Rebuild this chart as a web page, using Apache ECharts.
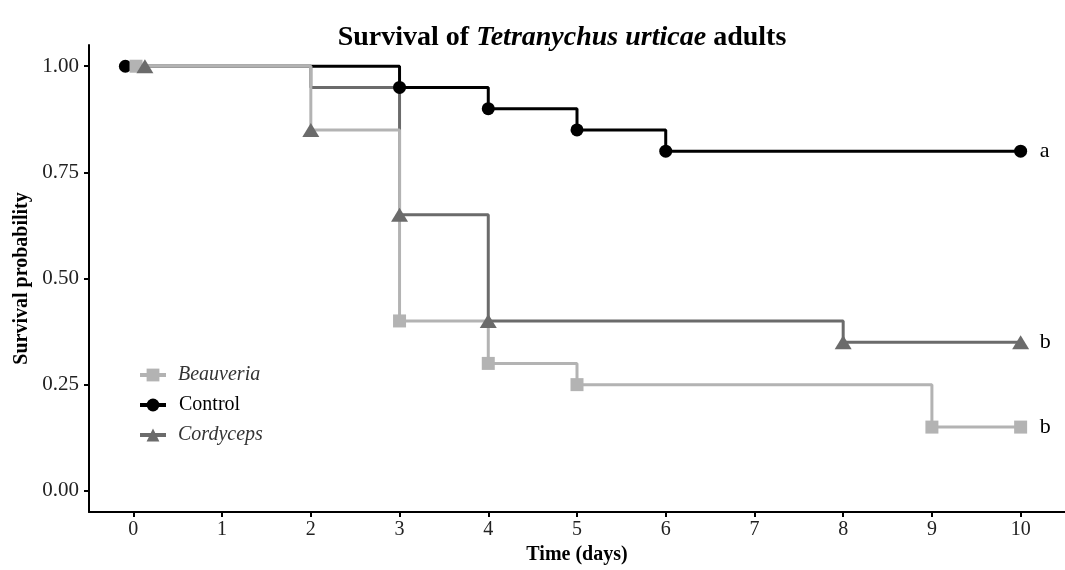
<!DOCTYPE html>
<html><head><meta charset="utf-8">
<script src="https://cdn.jsdelivr.net/npm/echarts@6/dist/echarts.min.js"></script>
<style>html,body{margin:0;padding:0;background:#fff}#c{width:1065px;height:570px}</style>
</head><body><div id="c"></div>
<script>
const groups = ['Beauveria', 'Control', 'Cordyceps'];
const groupLetters = ['b', 'a', 'b'];
const xTicks = [0, 1, 2, 3, 4, 5, 6, 7, 8, 9, 10];
const yTicks = [0, 0.25, 0.5, 0.75, 1];

const beauveriaTime = [0, 2, 3, 4, 5, 9, 10];
const beauveriaSurv = [1, 0.85, 0.40, 0.30, 0.25, 0.15, 0.15];
const controlTime = [0, 3, 4, 5, 6, 10];
const controlSurv = [1, 0.95, 0.90, 0.85, 0.80, 0.80];
const cordycepsTime = [0, 2, 3, 4, 8, 10];
const cordycepsSurv = [1, 0.95, 0.65, 0.40, 0.35, 0.35];

// marker positions as drawn in the figure
const beauveriaMarkTime = [0.03, 3, 4, 5, 9, 10];
const beauveriaMarkSurv = [1, 0.40, 0.30, 0.25, 0.15, 0.15];
const controlMarkTime = [-0.09, 3, 4, 5, 6, 10];
const controlMarkSurv = [1, 0.95, 0.90, 0.85, 0.80, 0.80];
const cordycepsMarkTime = [0.13, 2, 3, 4, 8, 10];
const cordycepsMarkSurv = [1, 0.85, 0.65, 0.40, 0.35, 0.35];

const FONT = 'Liberation Serif';
const colors = {Beauveria: '#b3b3b3', Control: '#000000', Cordyceps: '#6b6b6b'};
const symbols = {Beauveria: 'rect', Control: 'circle', Cordyceps: 'triangle'};
const symSizes = {Beauveria: 13, Control: 13, Cordyceps: [17, 14]};
const zip = (a, b) => a.map((v, i) => [v, b[i]]);

const lineData = {
  Beauveria: zip(beauveriaTime, beauveriaSurv),
  Control: zip(controlTime, controlSurv),
  Cordyceps: zip(cordycepsTime, cordycepsSurv)
};
const markData = {
  Beauveria: zip(beauveriaMarkTime, beauveriaMarkSurv),
  Control: zip(controlMarkTime, controlMarkSurv),
  Cordyceps: zip(cordycepsMarkTime, cordycepsMarkSurv)
};
const lineZ = {Control: 2, Cordyceps: 3, Beauveria: 4};
const markZ = {Control: 5, Beauveria: 6, Cordyceps: 7};

const series = [];
groups.forEach((g, i) => {
  series.push({
    name: g, type: 'line', step: 'end', data: lineData[g],
    symbol: symbols[g], symbolSize: symSizes[g], showSymbol: false,
    z: lineZ[g], silent: true,
    lineStyle: {color: colors[g], width: 3},
    itemStyle: {color: colors[g]},
    endLabel: {show: true, formatter: () => groupLetters[i], distance: 19,
      fontFamily: FONT, fontSize: 22, color: '#000'}
  });
});
groups.forEach(g => {
  series.push({
    name: g + ' marks', type: 'scatter', data: markData[g],
    symbol: symbols[g], symbolSize: symSizes[g], z: markZ[g], silent: true,
    itemStyle: {color: colors[g], opacity: 1}
  });
});

const chart = echarts.init(document.getElementById('c'), null, {renderer: 'canvas'});
chart.setOption({
  backgroundColor: '#ffffff',
  animation: false,
  title: {
    text: '{b|Survival of }{bi|Tetranychus urticae}{b| adults}',
    left: 557, top: 19, textAlign: 'center',
    textStyle: {
      rich: {
        b: {fontFamily: FONT, fontWeight: 'bold', fontSize: 28, color: '#000'},
        bi: {fontFamily: FONT, fontWeight: 'bold', fontStyle: 'italic', fontSize: 28, color: '#000'}
      }
    }
  },
  legend: {
    data: groups, orient: 'vertical', left: 133, top: 360,
    itemWidth: 26, itemHeight: 16, itemGap: 10, selectedMode: false,
    lineStyle: {width: 4},
    formatter: n => n === 'Control' ? '{n|' + n + '}' : '{i|' + n + '}',
    textStyle: {
      rich: {
        n: {fontFamily: FONT, fontSize: 20, color: '#000', padding: [0, 0, 0, 8]},
        i: {fontFamily: FONT, fontSize: 20, fontStyle: 'italic', color: '#333', padding: [0, 0, 0, 7]}
      }
    }
  },
  grid: {left: 89, right: -1, top: 45, bottom: 58, containLabel: false},
  xAxis: {
    type: 'value', min: -0.5, max: 10.5,
    name: 'Time (days)', nameLocation: 'middle', nameGap: 28,
    nameTextStyle: {fontFamily: FONT, fontWeight: 'bold', fontSize: 20, color: '#000'},
    axisLine: {onZero: false, lineStyle: {color: '#000', width: 2}},
    axisTick: {show: true, length: 5, lineStyle: {color: '#000', width: 2}, customValues: xTicks},
    axisLabel: {customValues: xTicks, fontFamily: FONT, fontSize: 20, color: '#222', margin: 8},
    splitLine: {show: false}
  },
  yAxis: {
    type: 'value', min: -0.05, max: 1.05,
    name: 'Survival probability', nameLocation: 'middle', nameGap: 55,
    nameTextStyle: {fontFamily: FONT, fontWeight: 'bold', fontSize: 20, color: '#000'},
    axisLine: {show: true, onZero: false, lineStyle: {color: '#000', width: 2}},
    axisTick: {show: true, length: 5, lineStyle: {color: '#000', width: 2}, customValues: yTicks},
    axisLabel: {customValues: yTicks, formatter: v => v.toFixed(2), fontFamily: FONT, fontSize: 21, color: '#222', margin: 10},
    splitLine: {show: false}
  },
  series: series
});
</script>
</body></html>
